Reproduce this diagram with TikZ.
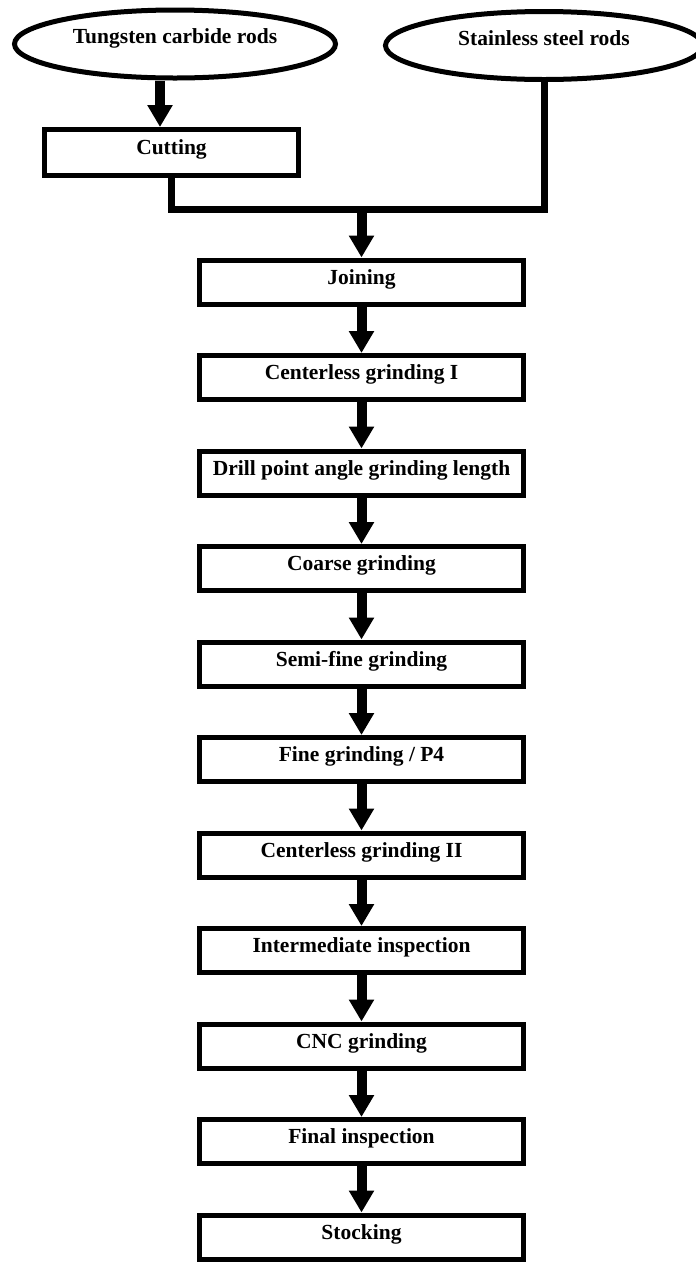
\documentclass[tikz,border=0pt]{standalone}
\usepackage{fontspec}
\setmainfont{Liberation Serif}
\usetikzlibrary{positioning}
\usetikzlibrary{arrows.meta,shapes.geometric,shadows}

\begin{document}
\begin{tikzpicture}[x=1pt,y=-1pt,
  box/.style={rectangle,draw=black,line width=5pt,fill=white,minimum width=324pt,minimum height=44pt,
    inner sep=0pt,text height=17pt,text depth=13pt,font=\fontsize{21.5}{24}\selectfont\bfseries,
    drop shadow={shadow xshift=1pt,shadow yshift=-1.5pt,opacity=.3}},
  rods/.style={ellipse,draw=black,line width=5pt,fill=white,inner sep=0pt,text height=15pt,text depth=16pt,
    font=\fontsize{21.5}{24}\selectfont\bfseries},
  flowarrow/.style={line width=10pt,-{Triangle[width=24pt,length=22pt]}},
  joinline/.style={line width=7pt}]
\useasboundingbox (0,0) rectangle (696,1262);
	\node[rods,minimum width=321pt,minimum height=68pt] (tungsten) at (175,44) {Tungsten carbide rods};
	\node[rods,minimum width=317pt,minimum height=68pt] (steel) at (544,45.5) {Stainless steel rods};
	\node[box,minimum width=254pt,minimum height=46pt] (cutting) at (171.5,152.5) {Cutting};
	\coordinate (merge) at (361.5,209);
	% process chain
	\foreach \name/\txt [count=\k from 0] in {joining/Joining,cgone/Centerless grinding I,drill/Drill point angle grinding length,
	    coarse/Coarse grinding,semifine/Semi-fine grinding,fine/{Fine grinding / P4},cgtwo/Centerless grinding II,
	    interinsp/Intermediate inspection,cnc/CNC grinding,finalinsp/Final inspection,stocking/Stocking}
	    \node[box] (\name) at (361.5,{282+95.5*\k}) {\txt};
	\draw[flowarrow] ([xshift=-15pt]tungsten.south) -- ([xshift=-15pt]tungsten.south |- cutting.north);
	\draw[joinline,gray!60,xshift=1pt,yshift=-2pt] (cutting.south) |- (merge) -| (steel.south);
	\draw[joinline] (cutting.south) |- (merge) -| (steel.south);
	\draw[flowarrow] (merge) -- (joining.north);
	\foreach \a/\b in {joining/cgone,cgone/drill,drill/coarse,coarse/semifine,semifine/fine,fine/cgtwo,
	    cgtwo/interinsp,interinsp/cnc,cnc/finalinsp,finalinsp/stocking}
	    \draw[flowarrow] (\a.south) -- (\b.north);
\end{tikzpicture}
\end{document}
